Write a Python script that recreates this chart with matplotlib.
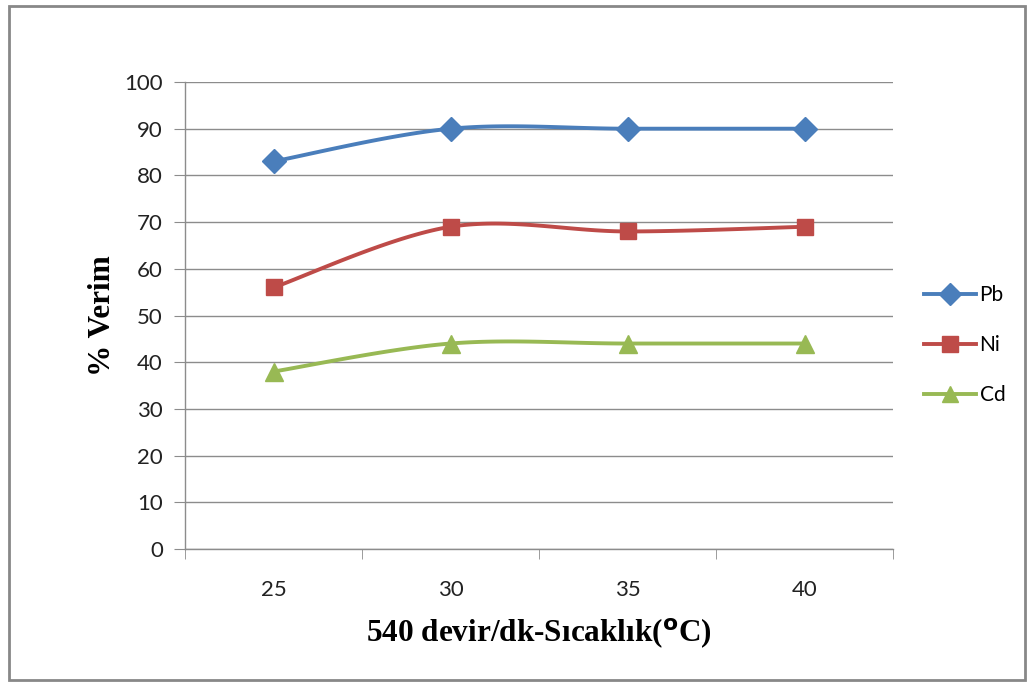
import matplotlib.pyplot as plt
import numpy as np
from matplotlib.patches import Rectangle

# data
temps = ['25', '30', '35', '40']
pb = [83, 90, 90, 90]
ni = [56, 69, 68, 69]
cd = [38, 44, 44, 44]

series = [('Pb', pb, '#4A7EBB', 'D', 12),
          ('Ni', ni, '#BE4B48', 's', 12),
          ('Cd', cd, '#98B954', '^', 13)]


def smooth(x, y, n=40):
    # Excel-style smoothed line: cubic bezier with catmull-rom control points
    x = np.asarray(x, float)
    y = np.asarray(y, float)
    px = np.concatenate([[x[0]], x, [x[-1]]])
    py = np.concatenate([[y[0]], y, [y[-1]]])
    xs, ys = [], []
    t = np.linspace(0, 1, n)
    for i in range(1, len(px) - 2):
        p0 = np.array([px[i], py[i]])
        p3 = np.array([px[i + 1], py[i + 1]])
        c1 = p0 + (np.array([px[i + 1], py[i + 1]]) - np.array([px[i - 1], py[i - 1]])) / 6
        c2 = p3 - (np.array([px[i + 2], py[i + 2]]) - np.array([px[i], py[i]])) / 6
        b = ((1 - t) ** 3)[:, None] * p0 + (3 * (1 - t) ** 2 * t)[:, None] * c1 \
            + (3 * (1 - t) * t ** 2)[:, None] * c2 + (t ** 3)[:, None] * p3
        xs.extend(b[:, 0])
        ys.extend(b[:, 1])
    return xs, ys


fig = plt.figure(figsize=(10.27, 6.84), dpi=100)
ax = fig.add_axes([185 / 1027, 1 - 549 / 684, 708 / 1027, 467 / 684])

# outer chart border
fig.patches.append(Rectangle((9 / 1027, 1 - 680 / 684), 1016 / 1027, 674 / 684,
                             transform=fig.transFigure, fill=False,
                             edgecolor='#888888', linewidth=2))

xi = np.arange(len(temps))
handles = []
for name, vals, col, mk, ms in series:
    sx, sy = smooth(xi, vals)
    ax.plot(sx, sy, color=col, linewidth=2.8, zorder=3)
    ax.plot(xi, vals, linestyle='none', marker=mk, markersize=ms,
            color=col, zorder=4)
    h, = ax.plot([], [], color=col, linewidth=2.8, marker=mk, markersize=ms - 1)
    handles.append(h)

ax.set_xlim(-0.5, 3.5)
ax.set_ylim(0, 100)
ax.set_yticks(range(0, 101, 10))
ax.set_xticks(xi)
ax.set_xticklabels(temps)
ax.set_xticks(np.arange(-0.5, 3.6, 1), minor=True)

ax.grid(axis='y', color='#8C8C8C', linewidth=1)
ax.set_axisbelow(True)
for s in ['top', 'right']:
    ax.spines[s].set_visible(False)
for s in ['left', 'bottom']:
    ax.spines[s].set_color('#8C8C8C')
    ax.spines[s].set_linewidth(1)

ax.tick_params(axis='y', length=8, color='#8C8C8C', labelsize=16, pad=8)
ax.tick_params(axis='x', which='major', length=0, labelsize=16, pad=22)
ax.tick_params(axis='x', which='minor', length=7, color='#8C8C8C')
for lab in ax.get_xticklabels() + ax.get_yticklabels():
    lab.set_fontfamily('Lato')
    lab.set_color('#222222')

plt.rcParams['mathtext.fontset'] = 'custom'
plt.rcParams['mathtext.rm'] = 'Liberation Serif'
plt.rcParams['mathtext.bf'] = 'Liberation Serif:bold'

ax.set_ylabel('% Verim', family='Liberation Serif', fontweight='bold',
              fontsize=22.5, labelpad=5)
ax.set_xlabel(r'540 devir/dk-Sıcaklık($\mathbf{^o}$C)', family='Liberation Serif',
              fontweight='bold', fontsize=22.5, labelpad=12)

fig.legend(handles, ['Pb', 'Ni', 'Cd'], loc='center left',
           bbox_to_anchor=(916 / 1027, 1 - 345 / 684), frameon=False,
           prop={'family': 'Lato', 'size': 15}, handlelength=2.5,
           handletextpad=0.15, labelspacing=1.45, borderaxespad=0)

fig.savefig('out.png', dpi=100)
